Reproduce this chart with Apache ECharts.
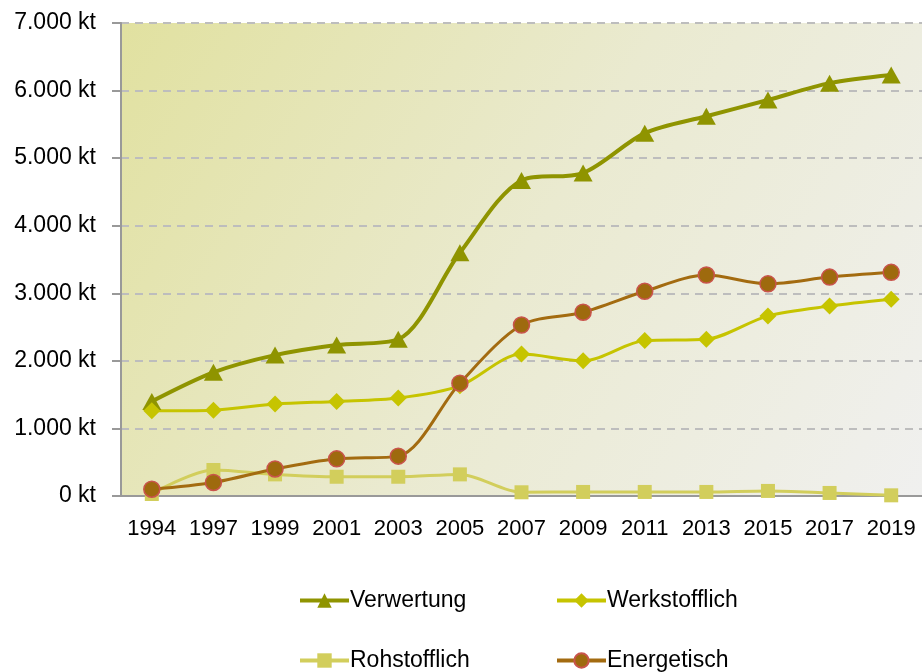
<!DOCTYPE html>
<html>
<head>
<meta charset="utf-8">
<script src="https://cdn.jsdelivr.net/npm/echarts@6/dist/echarts.min.js"></script>
<style>
  html, body { margin: 0; padding: 0; background: #fff; }
  #chart { width: 922px; height: 672px; }
</style>
</head>
<body>
<div id="chart"></div>
<script>
const years = ['1994', '1997', '1999', '2001', '2003', '2005', '2007', '2009', '2011', '2013', '2015', '2017', '2019'];
const verwertung = [1400, 1830, 2085, 2235, 2320, 3600, 4670, 4780, 5370, 5620, 5860, 6110, 6230];
const werkstofflich = [1260, 1270, 1360, 1400, 1450, 1630, 2100, 2000, 2300, 2320, 2665, 2810, 2910];
const rohstofflich = [30, 385, 320, 285, 285, 320, 55, 60, 60, 60, 75, 45, 10];
const energetisch = [100, 200, 400, 550, 590, 1670, 2530, 2720, 3030, 3270, 3140, 3240, 3310];
const seriesNames = ['Verwertung', 'Werkstofflich', 'Rohstofflich', 'Energetisch'];
const seriesColors = ['#8f9400', '#c6c400', '#d2ce5c', '#a36b10'];

const FONT = "'Liberation Sans', Arial, sans-serif";

const chart = echarts.init(document.getElementById('chart'));

function fmt(v) {
    return String(v).replace(/\B(?=(\d{3})+(?!\d))/g, '.') + ' kt';
}

// one legend per item so the 2x2 layout matches
const legendPos = [
    { left: 293, top: 584 },
    { left: 550, top: 584 },
    { left: 293, top: 644 },
    { left: 550, top: 644 }
];

const option = {
    animation: false,
    grid: {
        left: 121,
        right: 0,
        top: 23,
        bottom: 176,
        show: true,
        borderWidth: 0,
        backgroundColor: {
            type: 'linear', x: 0, y: 0, x2: 1, y2: 1,
            colorStops: [
                { offset: 0, color: '#e1e1a0' },
                { offset: 0.5, color: '#eaead0' },
                { offset: 1, color: '#f0f0ef' }
            ]
        }
    },
    legend: seriesNames.map((name, i) => ({
        data: [name],
        left: legendPos[i].left,
        top: legendPos[i].top,
        itemWidth: 49,
        itemHeight: 18,
        itemGap: 0,
        lineStyle: { width: 4, color: seriesColors[i] },
        textStyle: { fontFamily: FONT, fontSize: 23, color: '#000', padding: [0, 0, 0, -4] }
    })),
    xAxis: {
        type: 'category',
        data: years,
        boundaryGap: true,
        axisLine: { lineStyle: { color: '#999', width: 2 } },
        axisTick: { length: 8, lineStyle: { color: '#999', width: 2 } },
        axisLabel: { interval: 0, margin: 22, fontFamily: FONT, fontSize: 22, color: '#000' }
    },
    yAxis: {
        type: 'value',
        min: 0,
        max: 7000,
        interval: 1000,
        axisLine: { show: true, lineStyle: { color: '#999', width: 2 } },
        axisTick: { show: true, length: 9, lineStyle: { color: '#999', width: 2 } },
        splitLine: { lineStyle: { color: '#bdbdbd', width: 2, type: [8, 6] } },
        axisLabel: { margin: 25, fontFamily: FONT, fontSize: 23, color: '#000', formatter: fmt }
    },
    series: [
        {
            name: 'Verwertung', type: 'line', data: verwertung, smooth: 0.3,
            symbol: 'triangle', symbolSize: [19, 17],
            lineStyle: { color: seriesColors[0], width: 4 },
            itemStyle: { color: '#8f9400' }
        },
        {
            name: 'Werkstofflich', type: 'line', data: werkstofflich, smooth: 0.3,
            symbol: 'diamond', symbolSize: [17, 17],
            lineStyle: { color: seriesColors[1], width: 3 },
            itemStyle: { color: '#c6c400' }
        },
        {
            name: 'Rohstofflich', type: 'line', data: rohstofflich, smooth: 0.3,
            symbol: 'rect', symbolSize: 14,
            lineStyle: { color: seriesColors[2], width: 3 },
            itemStyle: { color: '#d2ce5c' }
        },
        {
            name: 'Energetisch', type: 'line', data: energetisch, smooth: 0.3,
            symbol: 'circle', symbolSize: 16,
            lineStyle: { color: seriesColors[3], width: 3 },
            itemStyle: { color: '#9e6a0e', borderColor: '#c9544c', borderWidth: 1.5 }
        }
    ]
};

chart.setOption(option);
</script>
</body>
</html>
